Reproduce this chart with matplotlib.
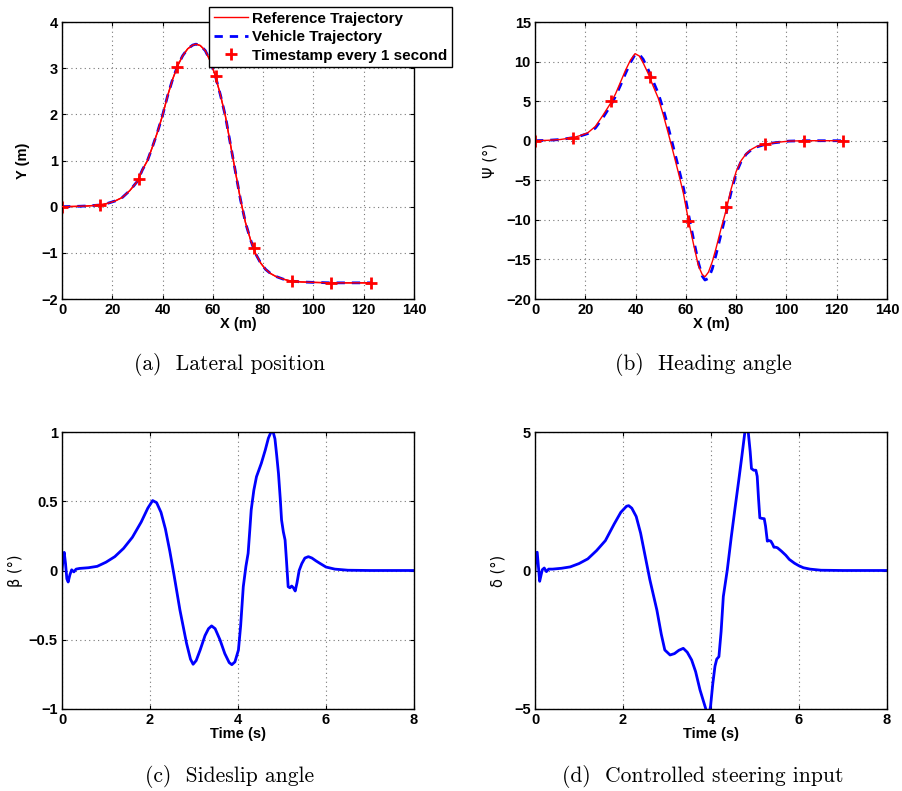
import matplotlib
matplotlib.use("Agg")
import matplotlib.pyplot as plt

# (a) lateral position, Y vs X
pos_x = [0, 5, 10, 15, 18, 21, 24, 27, 30, 32, 34, 36, 38, 40, 42, 44, 46, 48, 50, 52, 53.3, 55, 57, 59, 61,
         63, 65, 67, 69, 71, 73, 75, 77, 79, 81, 83, 85, 88, 91, 95, 100, 107, 115, 123]
pos_y = [0, 0.005, 0.015, 0.036, 0.07, 0.12, 0.2, 0.35, 0.55, 0.8, 1.0, 1.3, 1.62, 1.98, 2.4, 2.76, 3.05, 3.27,
         3.42, 3.50, 3.52, 3.49, 3.38, 3.15, 2.83, 2.42, 1.96, 1.35, 0.75, 0.15, -0.35, -0.72, -1.02, -1.22,
         -1.36, -1.45, -1.51, -1.57, -1.61, -1.63, -1.64, -1.65, -1.65, -1.65]
stamp_x = [0, 15.1, 30.6, 45.7, 61.1, 76.4, 91.6, 106.9, 122.8]
stamp_y = [0, 0.04, 0.59, 3.03, 2.83, -0.90, -1.62, -1.65, -1.65]

# (b) heading angle vs X
psi_x = [0, 5, 10, 15, 18, 21, 24, 27, 30, 32, 34, 36, 38, 39.8, 41.5, 43, 45, 47, 49, 51, 53, 55, 57, 59, 61,
         63, 65, 66.5, 67.6, 69, 70.5, 72, 74, 76, 78, 80, 82, 84, 86, 88, 91.5, 95, 101, 107, 123]
psi_ref = [0, 0.05, 0.15, 0.38, 0.65, 1.0, 1.8, 3.2, 4.7, 5.9, 7.4, 8.9, 10.2, 11.0, 10.7, 9.85, 8.5, 6.9, 5.4,
           3.3, 0.95, -1.5, -4.0, -6.6, -10.0, -13.0, -15.8, -16.9, -17.2, -16.6, -15.3, -13.6, -11.1, -8.8,
           -6.1, -3.9, -2.5, -1.65, -1.1, -0.75, -0.45, -0.25, -0.05, 0, 0]
psi_veh = [0, 0.05, 0.15, 0.38, 0.6, 0.9, 1.6, 2.9, 4.4, 5.6, 7.0, 8.5, 9.9, 10.9, 10.9, 10.3, 9.0, 7.5, 6.0,
           4.0, 1.7, -0.8, -3.3, -5.9, -9.2, -12.4, -15.4, -17.1, -17.6, -17.4, -16.2, -14.4, -11.8, -9.2,
           -6.5, -4.1, -2.6, -1.7, -1.15, -0.8, -0.47, -0.27, -0.05, 0, 0]
psi_stamp_x = [0, 15.2, 30.4, 45.6, 61.0, 76.1, 91.3, 106.9, 122.5]
psi_stamp_y = [0, 0.38, 5.05, 8.09, -10.2, -8.4, -0.42, 0, 0]

# (c) sideslip angle vs time
beta_t = [0, 0.03, 0.05, 0.08, 0.11, 0.14, 0.18, 0.22, 0.27, 0.32, 0.4, 0.6, 0.8, 1.0, 1.2, 1.4, 1.6, 1.8, 1.95,
          2.06, 2.15, 2.25, 2.35, 2.45, 2.55, 2.68, 2.83, 2.92, 2.98, 3.05, 3.14, 3.25, 3.33, 3.40, 3.48, 3.59,
          3.7, 3.8, 3.86, 3.93, 4.01, 4.06, 4.12, 4.18, 4.23, 4.27, 4.30, 4.36, 4.42, 4.53, 4.62, 4.69, 4.75,
          4.79, 4.84, 4.88, 4.92, 4.96, 4.99, 5.03, 5.07, 5.10, 5.14, 5.18, 5.22, 5.26, 5.30, 5.34, 5.39, 5.45,
          5.52, 5.60, 5.68, 5.77, 5.86, 6.0, 6.2, 6.5, 7, 8]
beta = [0, 0.1, 0.131, 0.05, -0.06, -0.083, -0.03, 0.005, -0.01, 0.01, 0.015, 0.02, 0.03, 0.06, 0.10, 0.16, 0.24,
        0.35, 0.45, 0.505, 0.49, 0.42, 0.30, 0.14, -0.04, -0.285, -0.525, -0.64, -0.677, -0.65, -0.574, -0.47,
        -0.42, -0.40, -0.42, -0.50, -0.60, -0.665, -0.68, -0.66, -0.574, -0.40, -0.117, 0.03, 0.124, 0.30, 0.437,
        0.58, 0.677, 0.774, 0.87, 0.955, 1.0, 1.01, 0.95, 0.83, 0.70, 0.52, 0.365, 0.28, 0.22, 0.08, -0.117,
        -0.125, -0.112, -0.125, -0.148, -0.09, 0.0, 0.05, 0.09, 0.10, 0.09, 0.07, 0.052, 0.025, 0.01, 0.002, 0, 0]

# (d) controlled steering input vs time
delta_t = [0, 0.02, 0.05, 0.08, 0.106, 0.14, 0.167, 0.21, 0.26, 0.31, 0.4, 0.6, 0.8, 1.0, 1.2, 1.4, 1.6, 1.8,
           1.95, 2.08, 2.13, 2.2, 2.3, 2.4, 2.5, 2.61, 2.77, 2.87, 2.95, 3.07, 3.17, 3.27, 3.37, 3.46, 3.56, 3.65,
           3.75, 3.89, 3.94, 3.99, 4.04, 4.09, 4.13, 4.18, 4.23, 4.28, 4.37, 4.46, 4.55, 4.63, 4.70, 4.77, 4.81,
           4.85, 4.89, 4.92, 4.97, 5.02, 5.05, 5.08, 5.11, 5.16, 5.21, 5.24, 5.28, 5.32, 5.36, 5.40, 5.43, 5.47,
           5.51, 5.6, 5.7, 5.78, 5.9, 6.0, 6.1, 6.25, 6.5, 7, 8]
delta = [0, 0.63, 0.66, 0.1, -0.39, -0.15, 0.03, 0.09, -0.04, 0.05, 0.05, 0.08, 0.13, 0.25, 0.42, 0.72, 1.08, 1.68,
         2.1, 2.32, 2.34, 2.25, 1.95, 1.35, 0.55, -0.33, -1.43, -2.3, -2.87, -3.05, -3.0, -2.88, -2.81, -2.95, -3.23,
         -3.65, -4.31, -5.04, -5.3, -4.9, -4.1, -3.46, -3.2, -3.11, -2.2, -0.94, 0.02, 1.2, 2.30, 3.25, 4.11, 5.0,
         5.2, 4.94, 4.3, 3.68, 3.62, 3.62, 3.4, 2.6, 1.90, 1.88, 1.87, 1.6, 1.06, 1.08, 1.06, 0.95, 0.84, 0.84,
         0.82, 0.7, 0.55, 0.40, 0.26, 0.17, 0.1, 0.05, 0.01, 0, 0]

tick_font = {"family": "Liberation Sans", "weight": "bold", "size": 10.5}
cap_font = {"family": "cmr10", "size": 15.5}

fig = plt.figure(figsize=(9.02, 7.91), dpi=100)
W, H = 902, 791


def make_axes(l, t, r, b):
    return fig.add_axes([l / W, 1 - b / H, (r - l) / W, (b - t) / H])


def style(ax, xlim, ylim, xticks, yticks):
    ax.set_xlim(xlim)
    ax.set_ylim(ylim)
    ax.set_xticks(xticks)
    ax.set_yticks(yticks)
    ax.grid(True, linestyle=(0, (1, 3)), color="#777777", linewidth=0.8)
    ax.tick_params(direction="in", top=True, right=True, length=3, width=0.8, pad=3)
    for lab in ax.get_xticklabels() + ax.get_yticklabels():
        lab.set_fontfamily(tick_font["family"])
        lab.set_fontweight("bold")
        lab.set_fontsize(tick_font["size"])
    for s in ax.spines.values():
        s.set_linewidth(1.0)


# (a)
ax1 = make_axes(62, 22, 414, 299)
ax1.plot(pos_x, pos_y, color="red", lw=1.0, label="Reference Trajectory")
ax1.plot(pos_x, pos_y, color="blue", lw=2.0, ls=(0, (3, 2.5)), label="Vehicle Trajectory")
ax1.plot(pos_x, pos_y, color="red", lw=1.0, zorder=3)
ax1.plot(stamp_x, stamp_y, ls="none", marker="+", ms=9, mew=2, color="red", label="Timestamp every 1 second")
style(ax1, (0, 140), (-2, 4), range(0, 141, 20), range(-2, 5))
ax1.set_xlabel("X (m)", fontdict=tick_font, labelpad=0)
ax1.set_ylabel("Y (m)", fontdict=tick_font, labelpad=8)
leg = ax1.legend(loc="upper right", bbox_to_anchor=(452 / W, 1 - 7 / H), bbox_transform=fig.transFigure,
                 prop={"family": "Liberation Sans", "weight": "bold", "size": 11}, fancybox=False,
                 edgecolor="black", framealpha=1, borderpad=0.3, labelspacing=0.3, handlelength=2.2,
                 handletextpad=0.3, borderaxespad=0)
leg.get_frame().set_linewidth(1.0)

# (b)
ax2 = make_axes(535, 22, 887, 299)
ax2.plot(psi_x, psi_veh, color="blue", lw=2.0, ls=(0, (3, 2.5)))
ax2.plot(psi_x, psi_ref, color="red", lw=1.0)
ax2.plot(psi_stamp_x, psi_stamp_y, ls="none", marker="+", ms=9, mew=2, color="red")
style(ax2, (0, 140), (-20, 15), range(0, 141, 20), range(-20, 16, 5))
ax2.set_xlabel("X (m)", fontdict=tick_font, labelpad=0)
ax2.set_ylabel("\u03a8 (\u00b0)", family="DejaVu Sans", fontsize=10.5, labelpad=6)

# (c)
ax3 = make_axes(62, 432, 414, 709)
ax3.plot(beta_t, beta, color="blue", lw=2.0)
style(ax3, (0, 8), (-1, 1), range(0, 9, 2), [-1, -0.5, 0, 0.5, 1])
ax3.set_yticklabels(["\u22121", "\u22120.5", "0", "0.5", "1"], fontdict=tick_font)
ax3.set_xlabel("Time (s)", fontdict=tick_font, labelpad=0)
ax3.set_ylabel("\u03b2 (\u00b0)", family="DejaVu Sans", fontsize=10.5, labelpad=4)

# (d)
ax4 = make_axes(535, 432, 887, 709)
ax4.plot(delta_t, delta, color="blue", lw=2.0)
style(ax4, (0, 8), (-5, 5), range(0, 9, 2), [-5, 0, 5])
ax4.set_xlabel("Time (s)", fontdict=tick_font, labelpad=0)
ax4.set_ylabel("\u03b4 (\u00b0)", family="DejaVu Sans", fontsize=10.5, labelpad=6)

# sub-captions
fig.text(230 / W, 1 - 365 / H, "(a)  Lateral position", ha="center", va="center", **cap_font)
fig.text(703 / W, 1 - 365 / H, "(b)  Heading angle", ha="center", va="center", **cap_font)
fig.text(230 / W, 1 - 777 / H, "(c)  Sideslip angle", ha="center", va="center", **cap_font)
fig.text(703 / W, 1 - 777 / H, "(d)  Controlled steering input", ha="center", va="center", **cap_font)

fig.savefig("out.png", dpi=100)
